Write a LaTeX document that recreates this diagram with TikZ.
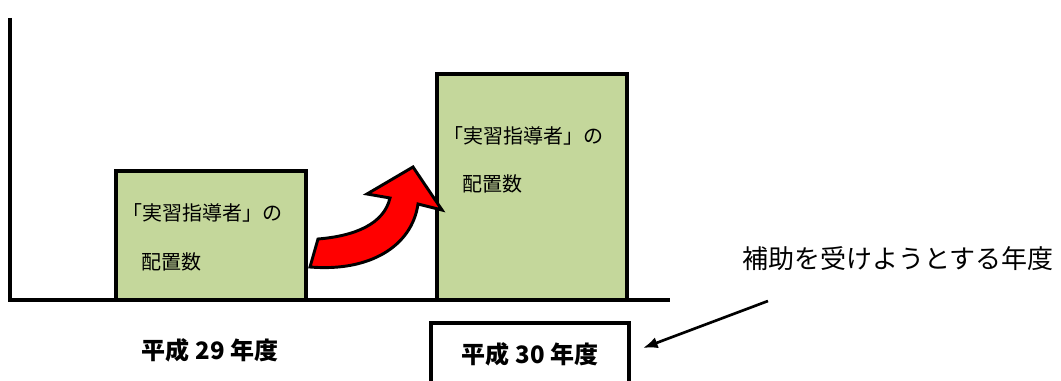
\documentclass[tikz,border=0pt]{standalone}
\usepackage{fontspec}
\newfontfamily\jp{Noto Sans CJK JP}
\usetikzlibrary{arrows.meta}
\definecolor{barfill}{RGB}{196,215,155}
\begin{document}
\begin{tikzpicture}[x=0.75pt,y=-0.75pt,
  axisline/.style={line width=2.3pt},
  bar/.style={draw=black,line width=2.3pt,fill=barfill},
  bartext/.style={font=\jp\fontsize{15pt}{18pt}\selectfont,anchor=west,inner sep=0pt},
  yearlabel/.style={font=\jp\bfseries\fontsize{18pt}{21pt}\selectfont,inner sep=0pt},
  note/.style={font=\jp\fontsize{19.5pt}{23pt}\selectfont,inner sep=0pt},
  pointer/.style={line width=2pt,-{Latex[length=11pt,width=8.5pt]}}
]
\useasboundingbox (0,0) rectangle (1061,381);
\clip (0,0) rectangle (1061,381);
% axes
\coordinate (ytop) at (10,18);
\coordinate (origin) at (10,300);
\coordinate (xend) at (670,300);
% bars
\draw[bar] (116,171) rectangle (306,300);
\draw[bar] (437,74) rectangle (627,300);
\draw[axisline] (ytop) -- (origin) -- (xend);
\node[bartext] (t1a) at (122,213) {「実習指導者」の};
\node[bartext] (t1b) at (141,262) {配置数};
\node[bartext] (t2a) at (443,136) {「実習指導者」の};
\node[bartext] (t2b) at (462,184) {配置数};
% curved arrow
\draw[line width=2.2pt,fill=red,line join=miter]
  (310,267) -- (318,239)
  .. controls (355,236) and (384,224) .. (390,198)
  -- (367,194) -- (413,167) -- (442,210) -- (418,204)
  .. controls (412,246) and (370,272) .. cycle;
% year labels
\node[yearlabel] (y29) at (210,350) {平成 29 年度};
\draw[line width=2.3pt] (431,390) -- (431,323) -- (629,323) -- (629,390);
\node[yearlabel] (y30) at (530,354) {平成 30 年度};
% note
\node[note] (note) at (898,259) {補助を受けようとする年度};
\coordinate (pstart) at (768,301);
\coordinate (pend) at (643,348);
\draw[pointer] (pstart) -- (pend);
\end{tikzpicture}
\end{document}
